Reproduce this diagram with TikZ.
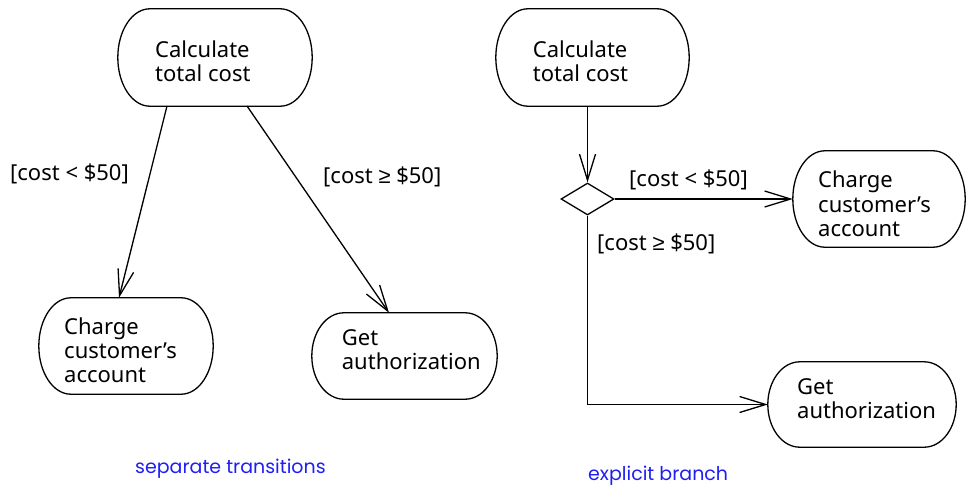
\documentclass[tikz,border=0pt]{standalone}
\usepackage{fontspec}
\setmainfont{Noto Sans}
\newfontfamily\bluefont{Poppins}
\newfontfamily\symfont{Liberation Sans}
\usetikzlibrary{arrows.meta,calc,shapes.geometric}
\definecolor{capblue}{RGB}{30,30,245}
\newcommand\geqsym{{\symfont ≥}}
\newcommand\stadium[2]{%
  \draw[boxline] let \p1=(#1.north), \p2=(#1.south), \n1={(\y1-\y2)/2} in
    ([xshift=#2]#1.north west) -- ([xshift=-#2]#1.north east)
    arc[start angle=90,end angle=-90,x radius=#2,y radius=\n1]
    -- ([xshift=#2]#1.south west)
    arc[start angle=270,end angle=90,x radius=#2,y radius=\n1] -- cycle;}
\begin{document}
\begin{tikzpicture}[x=1pt,y=1pt,
  box/.style={draw=none,rectangle,inner sep=0pt},
  boxline/.style={line width=1.3pt,black},
  txt/.style={font=\fontsize{22}{24.3}\selectfont,align=left,anchor=base west,inner sep=0pt},
  lbl/.style={font=\fontsize{22}{24.3}\selectfont,anchor=base west,inner sep=0pt},
  captext/.style={font=\bluefont\fontsize{19}{22}\selectfont,text=capblue,anchor=base west,inner sep=0pt},
  flow/.style={line width=1.3pt,-{Straight Barb[length=26pt,width=16pt,line width=1.3pt]}},
  dia/.style={draw,diamond,line width=1.3pt,inner sep=0pt,minimum width=53pt,minimum height=32pt,aspect=1.65}
]
\useasboundingbox (0,0) rectangle (966,-487);

% ---------- left: separate transitions ----------
\node[box,minimum width=194pt,minimum height=97pt] (lcalc) at (215,-57.5) {};
\node[box,minimum width=174pt,minimum height=96pt] (lcharge) at (126,-346) {};
\node[box,minimum width=185pt,minimum height=86pt] (lget) at (404.5,-356) {};
\stadium{lcalc}{32pt}
\stadium{lcharge}{32pt}
\stadium{lget}{32pt}
\node[txt] (lcalcT) at (155,-81.6) {Calculate\\total cost};
\node[txt] (lchargeT) at (64,-382.9) {Charge\\customer’s\\account};
\node[txt] (lgetT) at (341.7,-369.3) {Get\\authorization};

\coordinate (la1) at (167,-106);
\coordinate (la2) at (247,-106);
\draw[flow] (la1) -- (lcharge.north -| 119,0);
\draw[flow] (la2) -- (lget.north -| 389,0);
\node[lbl] (lt1) at (10,-180.5) {[cost < \$50]};
\node[lbl] (lt2) at (323,-183.7) {[cost \geqsym\ \$50]};
\node[captext] (lcap) at (135,-473.3) {separate transitions};

% ---------- right: explicit branch ----------
\node[box,minimum width=193pt,minimum height=97pt] (rcalc) at (592.5,-57.5) {};
\node[box,minimum width=172pt,minimum height=96pt] (rcharge) at (879,-199) {};
\node[box,minimum width=188pt,minimum height=85pt] (rget) at (862,-404.5) {};
\stadium{rcalc}{32pt}
\stadium{rcharge}{32pt}
\stadium{rget}{32pt}
\node[txt] (rcalcT) at (532.7,-81.6) {Calculate\\total cost};
\node[txt] (rchargeT) at (818,-236.3) {Charge\\customer’s\\account};
\node[txt] (rgetT) at (797,-418.6) {Get\\authorization};

\node[dia] (dec) at (587.5,-199) {};
\draw[flow] (rcalc.south -| dec.north) -- (dec.north);
\draw[flow] (dec.east) -- (rcharge.west);
\draw[flow] (dec.south) |- (rget.west);
\node[lbl] (rt1) at (629,-186) {[cost < \$50]};
\node[lbl] (rt2) at (597,-250) {[cost \geqsym\ \$50]};
\node[captext] (rcap) at (588,-480) {explicit branch};
\end{tikzpicture}
\end{document}
